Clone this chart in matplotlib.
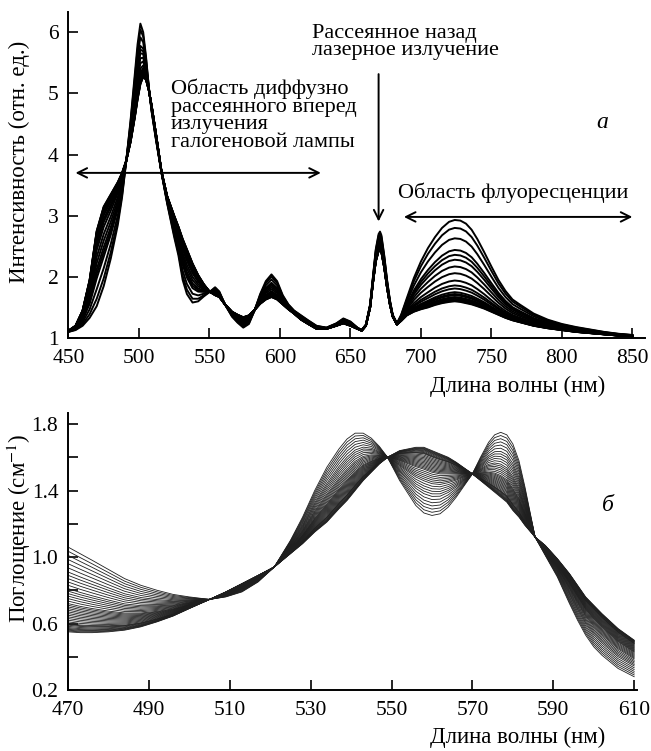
import matplotlib
matplotlib.use("Agg")
import matplotlib.pyplot as plt
import numpy as np

plt.rcParams['font.family'] = ['Liberation Serif', 'DejaVu Serif']
plt.rcParams['mathtext.fontset'] = 'stix'

# ---------------- panel (a): scattering / fluorescence spectra ----------------
wl_a = [450, 455, 460, 465, 470, 475, 480, 485, 488, 491, 494, 497, 499, 501, 503, 505,
        507, 509, 512, 516, 520, 525, 528, 531, 534, 538, 542, 546, 550, 554, 557, 561,
        566, 570, 574, 578, 582, 586, 590, 594, 598, 602, 606, 610, 615, 620, 626, 633,
        640, 645, 650, 655, 658, 661, 664, 666, 668, 670, 671, 672, 674, 676, 678, 680,
        683, 686, 690, 695, 700, 705, 710, 715, 720, 724, 728, 732, 736, 740, 745, 750,
        755, 760, 765, 770, 780, 790, 800, 810, 820, 830, 840, 850]
# curve with the strongest fluorescence
int_high = [1.10, 1.13, 1.20, 1.33, 1.52, 1.85, 2.30, 2.85, 3.30, 3.90, 4.55, 5.30, 5.80, 6.14, 6.00, 5.60,
            5.10, 4.70, 4.25, 3.70, 3.20, 2.65, 2.35, 1.95, 1.72, 1.58, 1.60, 1.68, 1.75, 1.83, 1.76, 1.55,
            1.35, 1.25, 1.17, 1.23, 1.45, 1.72, 1.93, 2.04, 1.93, 1.70, 1.55, 1.45, 1.37, 1.29, 1.20, 1.17,
            1.24, 1.32, 1.27, 1.17, 1.13, 1.22, 1.55, 2.00, 2.45, 2.70, 2.74, 2.68, 2.35, 1.95, 1.62, 1.38,
            1.24, 1.38, 1.65, 1.98, 2.25, 2.47, 2.65, 2.80, 2.90, 2.93, 2.92, 2.87, 2.77, 2.62, 2.40, 2.17,
            1.95, 1.77, 1.63, 1.55, 1.40, 1.30, 1.23, 1.18, 1.14, 1.10, 1.07, 1.05]
# curve with the weakest fluorescence
int_low = [1.12, 1.20, 1.45, 1.95, 2.75, 3.15, 3.35, 3.55, 3.70, 3.90, 4.20, 4.60, 4.90, 5.15, 5.27, 5.22,
           5.05, 4.80, 4.35, 3.72, 3.32, 3.00, 2.82, 2.62, 2.45, 2.22, 2.03, 1.88, 1.76, 1.70, 1.67, 1.55,
           1.43, 1.38, 1.34, 1.37, 1.46, 1.56, 1.63, 1.67, 1.63, 1.55, 1.47, 1.40, 1.30, 1.23, 1.15, 1.15,
           1.20, 1.24, 1.20, 1.15, 1.12, 1.20, 1.50, 1.90, 2.25, 2.42, 2.44, 2.40, 2.15, 1.82, 1.55, 1.35,
           1.22, 1.28, 1.37, 1.43, 1.47, 1.50, 1.54, 1.57, 1.59, 1.60, 1.59, 1.57, 1.55, 1.52, 1.48, 1.43,
           1.38, 1.33, 1.29, 1.26, 1.20, 1.16, 1.13, 1.10, 1.08, 1.06, 1.04, 1.03]
# fluorescence maxima (~724 nm) of the individual spectra
fluor_peaks = [2.93, 2.80, 2.63, 2.44, 2.36, 2.28, 2.17, 2.06, 1.94, 1.86, 1.81, 1.75,
               1.72, 1.70, 1.67, 1.66, 1.64, 1.62, 1.61, 1.60]

# ---------------- panel (б): absorption spectra ----------------
wl_b = [470, 473, 476, 480, 484, 488, 492, 496, 500, 505, 509, 513, 517, 521, 525, 528,
        531, 534, 537, 539, 541, 543, 545, 547, 549, 552, 556, 558, 560, 562, 564, 566,
        570, 572, 574, 575.5, 577, 578.5, 580, 581.5, 583, 585.5, 588, 591, 594, 596,
        598, 600, 602, 606, 610]
abs_oxy = [1.06, 1.02, 0.98, 0.925, 0.87, 0.83, 0.80, 0.775, 0.76, 0.745, 0.76, 0.79, 0.85, 0.94, 1.10, 1.24,
           1.40, 1.54, 1.65, 1.71, 1.745, 1.745, 1.715, 1.665, 1.60, 1.46, 1.31, 1.265, 1.25, 1.26, 1.30, 1.36,
           1.50, 1.60, 1.69, 1.735, 1.75, 1.735, 1.68, 1.58, 1.42, 1.12, 1.01, 0.88, 0.72, 0.62,
           0.53, 0.46, 0.41, 0.33, 0.28]
abs_deoxy = [0.55, 0.545, 0.545, 0.55, 0.56, 0.58, 0.61, 0.645, 0.69, 0.745, 0.79, 0.84, 0.89, 0.94, 1.02, 1.08,
             1.15, 1.21, 1.29, 1.34, 1.40, 1.46, 1.51, 1.56, 1.60, 1.64, 1.66, 1.66, 1.64, 1.62, 1.60, 1.57,
             1.50, 1.46, 1.42, 1.39, 1.36, 1.33, 1.28, 1.24, 1.19, 1.12, 1.07, 0.99, 0.90, 0.83,
             0.76, 0.71, 0.66, 0.57, 0.50]
# absorption of the individual spectra at 470 nm
abs_470 = [1.06, 1.035, 1.01, 0.985, 0.96, 0.935, 0.91, 0.89, 0.87, 0.85, 0.83, 0.81, 0.795, 0.78,
           0.765, 0.75, 0.735, 0.72, 0.71, 0.70, 0.69, 0.68, 0.67, 0.66, 0.65, 0.64, 0.63, 0.62,
           0.61, 0.60, 0.595, 0.59, 0.583, 0.576, 0.57, 0.565, 0.56, 0.555, 0.55]

FS_TICK = 15.5
FS_TXT = 16
FS_LAB = 16.5
fig = plt.figure(figsize=(6.51, 7.51), dpi=100)

# ---- top panel ----
ax1 = fig.add_axes([0.1052, 0.5499, 0.8856, 0.4341])
hi = np.array(int_high); lo = np.array(int_low)
for p in fluor_peaks:
    w = (p - fluor_peaks[-1]) / (fluor_peaks[0] - fluor_peaks[-1])
    ax1.plot(wl_a, lo + w * (hi - lo), color='black', lw=1.4)
ax1.set_xlim(450, 859)
ax1.set_ylim(1, 6.33)
ax1.set_xticks([450, 500, 550, 600, 650, 700, 750, 800, 850])
ax1.set_yticks([1, 2, 3, 4, 5, 6])

ax1.annotate('', xy=(453, 3.70), xytext=(631, 3.70),
             arrowprops=dict(arrowstyle='<->', lw=1.4, color='black', mutation_scale=17))
ax1.annotate('', xy=(686, 2.98), xytext=(852, 2.98),
             arrowprops=dict(arrowstyle='<->', lw=1.4, color='black', mutation_scale=17))
ax1.annotate('', xy=(670, 2.86), xytext=(670, 5.36),
             arrowprops=dict(arrowstyle='->', lw=1.4, color='black', mutation_scale=17))
ax1.text(522.7, 5.24, 'Область диффузно\nрассеянного вперед\nизлучения\nгалогеновой лампы',
         fontsize=FS_TXT, ha='left', va='top', linespacing=0.9)
ax1.text(622.7, 6.14, 'Рассеянное назад\nлазерное излучение',
         fontsize=FS_TXT, ha='left', va='top', linespacing=0.9, clip_on=False)
ax1.text(683.7, 3.37, 'Область флуоресценции', fontsize=FS_TXT, ha='left', va='center')
ax1.text(829, 4.52, 'а', fontsize=FS_TXT + 1, style='italic', ha='center', va='center')

# ---- bottom panel ----
ax2 = fig.add_axes([0.1045, 0.0812, 0.874, 0.3688])
ox = np.array(abs_oxy); de = np.array(abs_deoxy)
for v in abs_470:
    w = (v - abs_470[-1]) / (abs_470[0] - abs_470[-1])
    ax2.plot(wl_b, de + w * (ox - de), color='0.12', lw=0.6)
ax2.set_xlim(470, 610.7)
ax2.set_ylim(0.2, 1.866)
ax2.set_xticks([470, 490, 510, 530, 550, 570, 590, 610])
ax2.set_yticks([0.2, 0.4, 0.6, 0.8, 1.0, 1.2, 1.4, 1.6, 1.8])
ax2.set_yticklabels(['0.2', '', '0.6', '', '1.0', '', '1.4', '', '1.8'])
ax2.text(603.5, 1.31, 'б', fontsize=FS_TXT + 1, style='italic', ha='center', va='center')

for ax in (ax1, ax2):
    for s in ('top', 'right'):
        ax.spines[s].set_visible(False)
    for s in ('left', 'bottom'):
        ax.spines[s].set_linewidth(1.4)
    ax.tick_params(direction='in', length=7, width=1.2, labelsize=FS_TICK)
    ax.tick_params(axis='x', pad=8)
    ax.tick_params(axis='y', pad=7)

fig.text(605 / 651, 1 - 386 / 751, 'Длина волны (нм)', fontsize=FS_LAB, ha='right', va='center')
fig.text(605 / 651, 1 - 737 / 751, 'Длина волны (нм)', fontsize=FS_LAB, ha='right', va='center')
fig.text(19 / 651, 1 - 162 / 751, 'Интенсивность (отн. ед.)', fontsize=FS_LAB, rotation=90,
         ha='center', va='center')
fig.text(19 / 651, 1 - 528 / 751, 'Поглощение (см$^{-1}$)', fontsize=FS_LAB, rotation=90,
         ha='center', va='center')

fig.savefig('out.png', dpi=100)
